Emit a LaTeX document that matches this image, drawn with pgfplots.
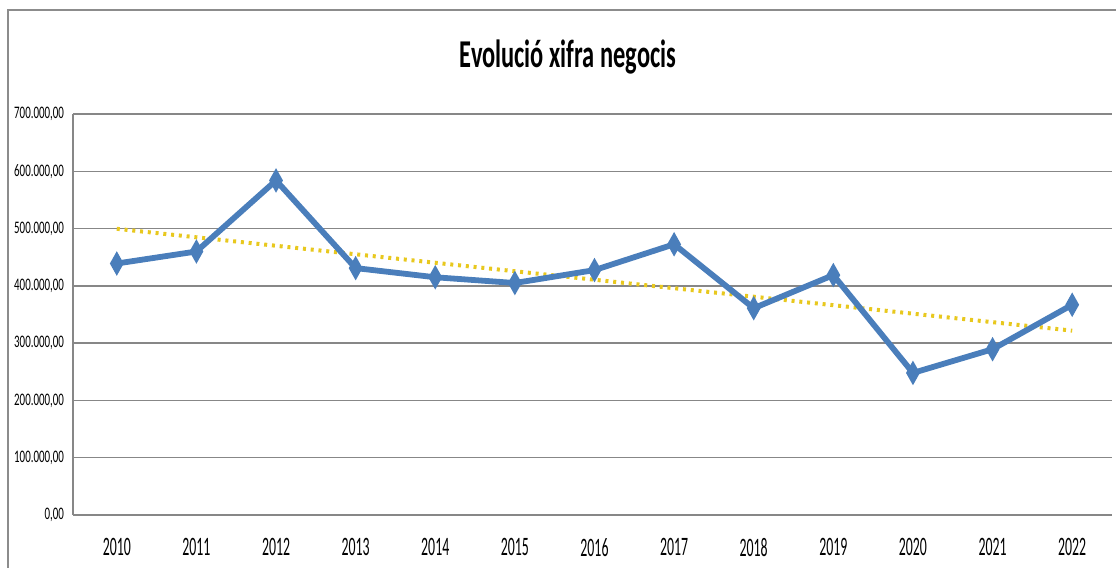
\documentclass[border=0pt]{standalone}
\usepackage{fontspec}
\setmainfont{Carlito}[FakeStretch=0.62]
\newfontfamily\yearfont{Carlito}[FakeStretch=0.52]
\usepackage{pgfplots}
\pgfplotsset{compat=1.18}

\definecolor{lineblue}{RGB}{74,126,187}
\definecolor{trendgold}{RGB}{232,200,30}
\definecolor{gridgray}{RGB}{135,135,135}
\definecolor{framegray}{RGB}{140,140,140}

\pgfplotstableread{
year sales
0 439000
1 460000
2 584000
3 431000
4 415000
5 405000
6 427500
7 472600
8 361000
9 418800
10 248000
11 289400
12 367000
}\salesdata

\begin{document}
\begin{tikzpicture}
  % picture laid out in reference pixels, 1 px = 0.5pt
  \useasboundingbox (0,0) rectangle (558pt,284pt);
  \draw[framegray, line width=1.2pt] (4pt,0pt) -- (4pt,279pt) -- (558pt,279pt);
  \node[font=\fontsize{19.7}{22}\selectfont\bfseries] at (284pt,255.5pt) {Evolució xifra negocis};

  \begin{axis}[
      at={(36.5pt,26.5pt)}, anchor=south west,
      scale only axis,
      width=519.5pt, height=200.5pt,
      xmin=-0.55, xmax=12.5,
      ymin=0, ymax=700000,
      xtick={0,...,12},
      xticklabels={2010,2011,2012,2013,2014,2015,2016,2017,2018,2019,2020,2021,2022},
      ytick={0,100000,...,700000},
      scaled y ticks=false,
      yticklabel style={
        /pgf/number format/fixed,
        /pgf/number format/fixed zerofill,
        /pgf/number format/precision=2,
        /pgf/number format/use comma,
        /pgf/number format/1000 sep={.},
        /pgf/number format/assume math mode=true,
        xshift=-1pt},
      tick label style={font=\fontsize{8.8}{10}\selectfont},
      xticklabel style={font=\yearfont\fontsize{13.3}{15}\selectfont, yshift=-8pt},
      major tick length=0pt,
      ymajorgrids,
      grid style={gridgray, line width=0.75pt},
      axis x line*=bottom, axis y line*=left,
      axis line style={gridgray, line width=0.75pt, -},
      clip=false,
    ]
    \addplot[trendgold, line width=2pt, dash pattern=on 1.5pt off 2.4pt]
      coordinates {(0,499600) (12,321800)};
    \addplot[lineblue, line width=2.9pt, mark=diamond*,
      mark options={solid, xscale=0.75, scale=1.6}]
      table[x=year, y=sales] {\salesdata};
  \end{axis}
\end{tikzpicture}
\end{document}
